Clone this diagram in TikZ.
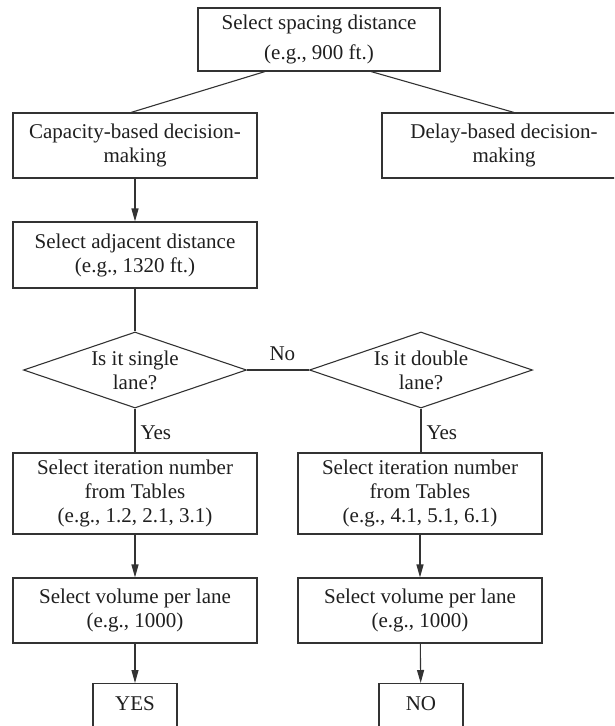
\documentclass[tikz,border=0pt]{standalone}
\usepackage{fontspec}
\setmainfont{Liberation Serif}
\usetikzlibrary{shapes.geometric,arrows.meta}
\definecolor{ln}{gray}{0.2}
\definecolor{tx}{gray}{0.12}
\begin{document}
\begin{tikzpicture}[x=1pt,y=-1pt,
  every node/.style={font=\fontsize{21}{24}\selectfont, text=tx},
  box/.style={draw=ln, line width=1.1pt, align=center, minimum width=244pt, inner sep=0pt},
  dia/.style={draw=ln, line width=1.1pt, diamond, aspect=2.93, minimum width=223pt,
              minimum height=76pt, inner sep=0pt, align=center},
  link/.style={draw=ln, line width=1.1pt},
  arr/.style={link, -{Triangle[length=13pt,width=7pt]}},
  lbl/.style={inner sep=0pt}
]
\useasboundingbox (0,0) rectangle (614,726);
\clip (0,0) rectangle (614,726);

\node[box, minimum width=242pt, minimum height=63pt] (top) at (319,39.5)
  {Select spacing distance\\[6pt](e.g., 900 ft.)};
\node[box, minimum height=65pt] (cap) at (135,145.5) {Capacity-based decision-\\making};
\node[box, minimum height=65pt] (delay) at (504,145.5) {Delay-based decision-\\making};
\node[box, minimum height=66pt] (adj) at (135,255) {Select adjacent distance\\(e.g., 1320 ft.)};
\node[dia] (d1) at (135,370) {Is it single\\lane?};
\node[dia] (d2) at (421,370) {Is it double\\lane?};
\node[box, minimum height=81pt] (it1) at (135,493.5)
  {Select iteration number\\from Tables\\(e.g., 1.2, 2.1, 3.1)};
\node[box, minimum height=81pt] (it2) at (420,493.5)
  {Select iteration number\\from Tables\\(e.g., 4.1, 5.1, 6.1)};
\node[box, minimum height=65pt] (vol1) at (135,610.5) {Select volume per lane\\(e.g., 1000)};
\node[box, minimum height=65pt] (vol2) at (420,610.5) {Select volume per lane\\(e.g., 1000)};
\node[box, minimum width=84pt, anchor=north, text height=27pt, text depth=40pt] (yes) at (135,683) {YES};
\node[box, minimum width=84pt, anchor=north, text height=27pt, text depth=40pt] (no) at (421,683) {NO};

\draw[link] ([xshift=-54pt]top.south) -- ([xshift=-4pt]cap.north);
\draw[link] ([xshift=52pt]top.south) -- ([xshift=10pt]delay.north);
\draw[arr] (cap) -- (adj);
\draw[link] (adj) -- (d1.north);
\draw[link] (d1.east) -- node[lbl, pos=0.57, above=9pt] (nolab) {No} (d2.west);
\draw[link] (d1.south) -- node[lbl, pos=0.55, right=5pt] (yes1) {Yes} (it1.north);
\draw[link] (d2.south) -- node[lbl, pos=0.55, right=5pt] (yes2) {Yes} (d2.south |- it2.north);
\draw[arr] (it1) -- (vol1);
\draw[arr] (it2) -- (vol2);
\draw[arr] (vol1) -- (yes);
\draw[arr] (vol2) -- (no);
\end{tikzpicture}
\end{document}
